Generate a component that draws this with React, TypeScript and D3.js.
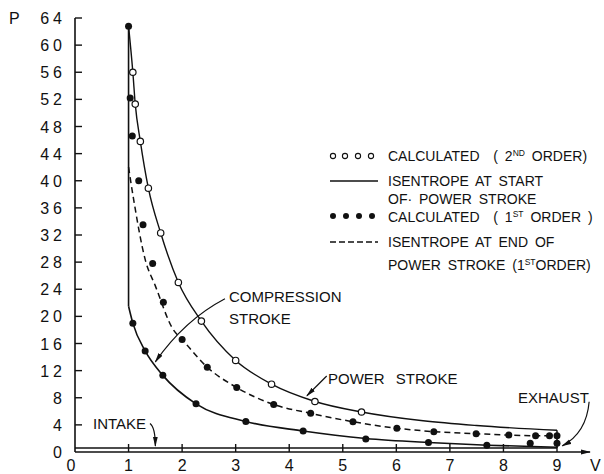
import React from "react";
import * as d3 from "d3";

const W = 604;
const H = 474;

// Tick values
const yTicks = [0, 4, 8, 12, 16, 20, 24, 28, 32, 36, 40, 44, 48, 52, 56, 60, 64];
const xTicks = [0, 1, 2, 3, 4, 5, 6, 7, 8, 9];

// Isentrope at start of power stroke (solid curve)
const powerV = [1.0, 1.08, 1.125, 1.22, 1.37, 1.6, 1.93, 2.36, 3.0, 3.67, 4.48, 5.35, 6.5, 7.5, 9.0];
const powerP = [62.8, 56, 51.3, 45.8, 38.9, 32.3, 25.0, 19.3, 13.5, 10.0, 7.45, 5.9, 4.6, 3.9, 3.2];

// Calculated, 2nd order (open circles)
const secondV = [1.08, 1.125, 1.22, 1.37, 1.6, 1.93, 2.36, 3.0, 3.67, 4.48, 5.35];
const secondP = [56, 51.3, 45.8, 38.9, 32.3, 25.0, 19.3, 13.5, 10.0, 7.45, 5.9];

// Isentrope at end of power stroke, 1st order (dashed)
const endV = [1.0, 1.1, 1.31, 1.5, 1.83, 2.0, 2.47, 3.02, 3.71, 4.4, 5.19, 6.01, 6.7, 7.49, 8.1, 8.6, 9.0];
const endP = [42, 37, 28.4, 24.5, 18.1, 16.6, 12.5, 9.5, 7.0, 5.7, 4.46, 3.5, 3.0, 2.7, 2.5, 2.4, 2.4];

// Calculated, 1st order (filled dots, power stroke)
const firstV = [1.0, 1.03, 1.07, 1.19, 1.27, 1.45, 1.65, 2.0, 2.47, 3.02, 3.71, 4.4, 5.19, 6.01, 6.7, 7.49, 8.1, 8.6, 8.86, 9.0];
const firstP = [62.8, 52.2, 46.6, 40.0, 33.5, 27.8, 22.1, 16.6, 12.5, 9.5, 7.0, 5.7, 4.46, 3.5, 3.0, 2.7, 2.5, 2.4, 2.4, 2.4];

// Compression stroke curve (solid)
const compV = [1.0, 1.08, 1.31, 1.64, 2.26, 3.19, 4.26, 5.43, 6.6, 7.7, 9.0];
const compP = [21.5, 19.0, 14.9, 11.3, 7.1, 4.5, 3.1, 2.0, 1.4, 1.0, 0.7];

// Compression stroke calculated points (filled dots)
const compPtV = [1.08, 1.31, 1.64, 2.26, 3.19, 4.26, 5.43, 6.6, 7.69, 8.5, 9.0];
const compPtP = [19.0, 14.9, 11.3, 7.1, 4.5, 3.1, 1.9, 1.4, 1.0, 1.3, 1.3];

// Combustion (vertical at v = 1), exhaust (vertical at v = 9), intake (horizontal)
const combV = [1, 1];
const combP = [21.5, 62.8];
const exhaustV = [9, 9];
const exhaustP = [3.2, 0.6];
const intakeV = [0, 9];
const intakeP = [0.6, 0.6];

const zip = (a: number[], b: number[]) => a.map((v, i) => [v, b[i]] as [number, number]);

const FONT = "'Liberation Sans', Arial, Helvetica, sans-serif";

export default function App() {
  const x = d3.scaleLinear().domain([0, 9]).range([75, 557]);
  const y = d3.scaleLinear().domain([0, 64]).range([452, 18]);

  const smooth = d3
    .line<[number, number]>()
    .x((d) => x(d[0]))
    .y((d) => y(d[1]))
    .curve(d3.curveMonotoneX);
  const straight = d3
    .line<[number, number]>()
    .x((d) => x(d[0]))
    .y((d) => y(d[1]));

  const stroke = "#111";
  const P = (v: number, p: number) => `${x(v)},${y(p)}`;

  return (
    <svg width={W} height={H} style={{ position: "absolute", left: 0, top: 0, background: "#fff" }}>
      <defs>
        <marker id="ah" viewBox="0 0 10 6" refX="9" refY="3" markerWidth="10" markerHeight="6" markerUnits="userSpaceOnUse" orient="auto">
          <path d="M0,0.6 L10,3 L0,5.4 Z" fill={stroke} />
        </marker>
      </defs>
      <rect x={0} y={0} width={W} height={H} fill="#fff" />

      {/* axes */}
      <line x1={x(0)} y1={y(0)} x2={x(0)} y2={y(64)} stroke={stroke} strokeWidth={1.6} />
      {yTicks.map((t) => (
        <g key={"yt" + t}>
          {t > 0 && <line x1={x(0)} x2={x(0) + 7} y1={y(t)} y2={y(t)} stroke={stroke} strokeWidth={1.4} />}
          <text x={66} y={y(t) + 6} textAnchor="end" fontFamily={FONT} fontSize={16} letterSpacing={4} fill={stroke}>
            {t}
          </text>
        </g>
      ))}
      <text x={9} y={24} fontFamily={FONT} fontSize={16} fill={stroke}>P</text>

      <line x1={x(0)} y1={y(0)} x2={590} y2={y(0)} stroke={stroke} strokeWidth={1.6} markerEnd="url(#ah)" />
      {xTicks.map((t) => (
        <g key={"xt" + t}>
          {t > 0 && <line x1={x(t)} x2={x(t)} y1={y(0)} y2={y(0) - 8} stroke={stroke} strokeWidth={1.4} />}
          <text x={t === 0 ? x(t) - 4 : x(t)} y={471} textAnchor="middle" fontFamily={FONT} fontSize={16} fill={stroke}>
            {t}
          </text>
        </g>
      ))}
      <text x={590} y={471} fontFamily={FONT} fontSize={16} fill={stroke}>V</text>

      {/* intake, exhaust, combustion */}
      <path d={straight(zip(intakeV, intakeP)) || ""} fill="none" stroke={stroke} strokeWidth={1.5} />
      <path d={straight(zip(exhaustV, exhaustP)) || ""} fill="none" stroke={stroke} strokeWidth={1.5} />
      <path d={straight(zip(combV, combP)) || ""} fill="none" stroke={stroke} strokeWidth={1.6} />

      {/* curves */}
      <path d={smooth(zip(compV, compP)) || ""} fill="none" stroke={stroke} strokeWidth={1.6} />
      <path d={smooth(zip(powerV, powerP)) || ""} fill="none" stroke={stroke} strokeWidth={1.4} />
      <path d={smooth(zip(endV, endP)) || ""} fill="none" stroke={stroke} strokeWidth={1.5} strokeDasharray="6 4" />

      {/* points */}
      {zip(compPtV, compPtP).map((d, i) => (
        <circle key={"c" + i} cx={x(d[0])} cy={y(d[1])} r={3.5} fill={stroke} />
      ))}
      {zip(firstV, firstP).map((d, i) => (
        <circle key={"f" + i} cx={x(d[0])} cy={y(d[1])} r={3.5} fill={stroke} />
      ))}
      {zip(secondV, secondP).map((d, i) => (
        <circle key={"s" + i} cx={x(d[0])} cy={y(d[1])} r={3.2} fill="#fff" stroke={stroke} strokeWidth={1.2} />
      ))}

      {/* legend */}
      <g fontFamily={FONT} fontSize={14} fill={stroke} wordSpacing={3}>
        {[333, 345, 358, 371].map((cx) => (
          <circle key={"lo" + cx} cx={cx} cy={156} r={2.6} fill="#fff" stroke={stroke} strokeWidth={1.1} />
        ))}
        <text x={388} y={161} xmlSpace="preserve">
          CALCULATED  ( 2<tspan fontSize={8.5} dy={-5.5}>ND</tspan><tspan dy={5.5}> ORDER)</tspan>
        </text>

        <line x1={330} x2={378} y1={181} y2={181} stroke={stroke} strokeWidth={1.3} />
        <text x={388} y={186}>ISENTROPE AT START</text>
        <text x={388} y={204}>OF· POWER STROKE</text>

        {[333, 346, 359, 372].map((cx) => (
          <circle key={"lf" + cx} cx={cx} cy={216} r={3} fill={stroke} />
        ))}
        <text x={388} y={222} xmlSpace="preserve">
          CALCULATED  ( 1<tspan fontSize={8.5} dy={-5.5}>ST</tspan><tspan dy={5.5}> ORDER )</tspan>
        </text>

        <line x1={330} x2={378} y1={242} y2={242} stroke={stroke} strokeWidth={1.3} strokeDasharray="6 3" />
        <text x={388} y={247}>ISENTROPE AT END OF</text>
        <text x={388} y={270}>
          POWER STROKE (1<tspan fontSize={8.5} dy={-5.5}>ST</tspan><tspan dy={5.5}>ORDER)</tspan>
        </text>
      </g>

      {/* annotations */}
      <g fontFamily={FONT} fontSize={15} fill={stroke}>
        <text x={229} y={302}>COMPRESSION</text>
        <text x={229} y={324}>STROKE</text>
        <path d={`M${P(2.8, 22.6)} Q${P(2.05, 19.5)} ${P(1.5, 13.3)}`} fill="none" stroke={stroke} strokeWidth={1.2} markerEnd="url(#ah)" />

        <text x={328} y={384} wordSpacing={7}>POWER STROKE</text>
        <path d={`M${P(4.7, 11.2)} L${P(4.33, 8.3)}`} fill="none" stroke={stroke} strokeWidth={1.2} markerEnd="url(#ah)" />

        <text x={518} y={403}>EXHAUST</text>
        <path d={`M${P(9.6, 7.4)} Q${P(9.55, 2.8)} ${P(9.1, 0.9)}`} fill="none" stroke={stroke} strokeWidth={1.2} markerEnd="url(#ah)" />

        <text x={93} y={429}>INTAKE</text>
        <path d={`M${P(1.4, 4.2)} Q${P(1.5, 3.6)} ${P(1.5, 0.9)}`} fill="none" stroke={stroke} strokeWidth={1.2} markerEnd="url(#ah)" />
      </g>
    </svg>
  );
}
